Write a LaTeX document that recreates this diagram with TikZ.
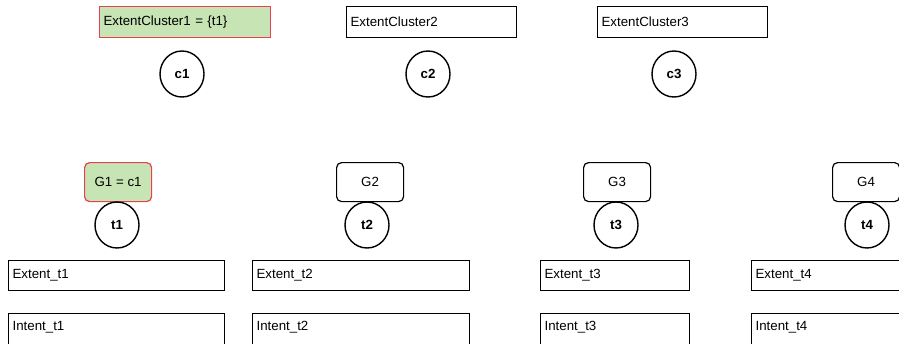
\documentclass[tikz,border=0pt]{standalone}
\usepackage{fontspec}
\setmainfont{Liberation Sans}
\usetikzlibrary{shapes.geometric}
\definecolor{selfill}{HTML}{C6E4B4}
\definecolor{seledge}{HTML}{E5414F}
\tikzset{
  every node/.style={font=\fontsize{13.3}{15}\selectfont},
  % left-aligned text box given by width and height
  tbox/.style 2 args={draw, line width=1.2pt, anchor=north west, inner xsep=4pt, inner ysep=0pt,
    text width=#1pt-8pt, minimum height=#2pt, align=left},
  % same box with text only; its frame is drawn separately
  tlabel/.style 2 args={tbox={#1}{#2}, draw=none},
  frame/.style={draw, line width=1.2pt},
  gbox/.style={draw, line width=1.2pt, rounded corners=5pt, anchor=north west, inner sep=0pt,
    minimum width=67pt, minimum height=39pt, align=center},
  bubble/.style={draw, ellipse, line width=1.4pt, inner sep=0pt, minimum width=44pt, minimum height=46pt,
    font=\fontsize{13.3}{15}\selectfont\bfseries},
  sel/.style={fill=selfill, draw=seledge}
}
\begin{document}
\begin{tikzpicture}[x=1pt,y=-1pt]
\useasboundingbox (0,0) rectangle (899,343);
% cluster extents
\node[tbox={171}{31}, sel] (ec1) at (99,6) {ExtentCluster1 = \{t1\}};
\node[tbox={170}{31}] (ec2) at (346,6) {ExtentCluster2};
\node[tbox={170}{31}] (ec3) at (597,6) {ExtentCluster3};
% cluster centres
\node[bubble] (c1) at (182,74) {c1};
\node[bubble] (c2) at (428,74) {c2};
\node[bubble] (c3) at (674,74) {c3};
% groups
\node[gbox, sel] (g1) at (84,162) {G1 = c1};
\node[gbox] (g2) at (336,162) {G2};
\node[gbox] (g3) at (583,162) {G3};
\node[gbox] (g4) at (832,162) {G4};
% objects
\node[bubble] (t1) at (117,225) {t1};
\node[bubble] (t2) at (367,225) {t2};
\node[bubble] (t3) at (616,225) {t3};
\node[bubble] (t4) at (867,225) {t4};
% object extents
\node[tbox={216}{30}] (e1) at (8,260) {Extent\_t1};
\node[tbox={217}{30}] (e2) at (252,260) {Extent\_t2};
\node[tbox={149}{30}] (e3) at (540,260) {Extent\_t3};
\node[tbox={170}{30}] (e4) at (751,260) {Extent\_t4};
% object intents: open-bottomed frames, cut by the lower page edge
\node[tlabel={216}{28}] (i1) at (8,313) {Intent\_t1};
\node[tlabel={217}{28}] (i2) at (252,313) {Intent\_t2};
\node[tlabel={149}{28}] (i3) at (540,313) {Intent\_t3};
\node[tlabel={170}{28}] (i4) at (751,313) {Intent\_t4};
\foreach \n in {i1,i2,i3,i4}
  \draw[frame] ([shift={(0.6pt,-4pt)}]\n.south west) -- ([shift={(0.6pt,-0.6pt)}]\n.north west)
    -- ([shift={(-0.6pt,-0.6pt)}]\n.north east) -- ([shift={(-0.6pt,-4pt)}]\n.south east);
\end{tikzpicture}
\end{document}
